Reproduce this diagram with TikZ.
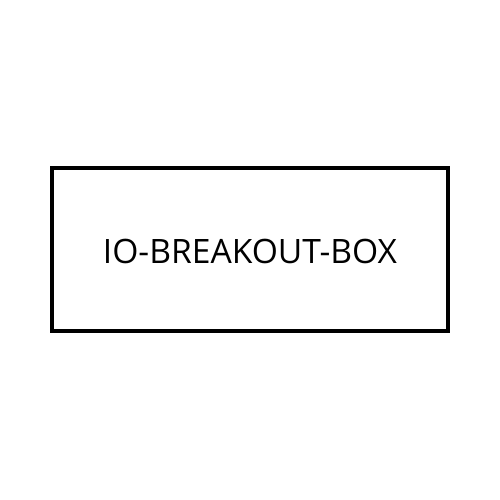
\documentclass[tikz,border=0pt]{standalone}
\usepackage{fontspec}
\setmainfont{Open Sans}
\begin{document}
\begin{tikzpicture}[x=1pt,y=-1pt,
  boxstyle/.style={draw=black, line width=4pt, minimum width=396pt, minimum height=163pt, inner sep=0pt},
  labelstyle/.style={font=\fontsize{33.6}{40}\selectfont, text=black}]
\useasboundingbox (0,0) rectangle (500,500);
\node[boxstyle] (box) at (250,249.5) {};
\node[labelstyle, anchor=base] (lbl) at (250,263) {IO-BREAKOUT-BOX};
\end{tikzpicture}
\end{document}
